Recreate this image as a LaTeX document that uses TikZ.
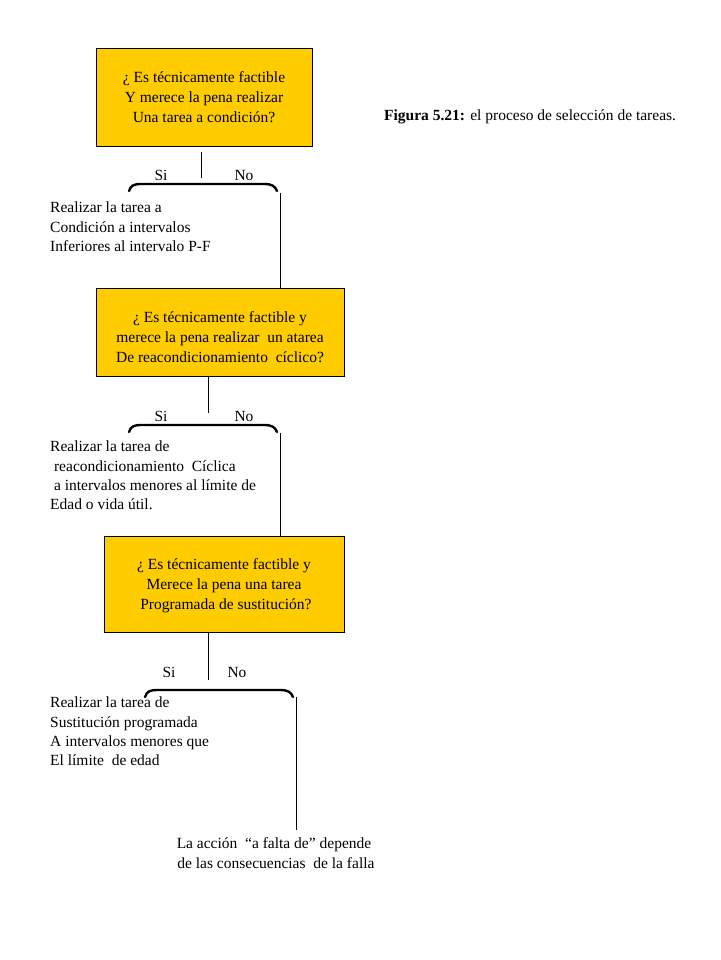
\documentclass[tikz,border=0pt]{standalone}
\usepackage{fontspec}
\setmainfont{Liberation Serif}
\definecolor{gold}{HTML}{FFCC00}
\begin{document}
\begin{tikzpicture}[x=1pt,y=-1pt,
  qbox/.style={draw=black,line width=0.8pt,fill=gold,rectangle,inner sep=0pt},
  qtxt/.style={inner sep=0pt,align=center,font=\fontsize{15.5}{20}\selectfont},
  txt/.style={align=left,inner sep=0pt,anchor=north west,font=\fontsize{15.5}{19.2}\selectfont},
  lab/.style={inner sep=0pt,anchor=base,font=\fontsize{15.5}{16}\selectfont},
  conn/.style={line width=0.8pt},
  brace/.style={line width=2.4pt,line cap=round}]
\useasboundingbox (0,0) rectangle (720,960);

% Caption
\node[inner sep=0pt,anchor=base west,font=\fontsize{15.5}{18}\selectfont] (cap) at (384,121) {\textbf{Figura 5.21:} el proceso de selección de tareas.};

% Box 1
\node[qbox,minimum width=216pt,minimum height=98pt] (b1) at (204,97) {};
\node[qtxt] (q1) at (204,97) {¿ Es técnicamente factible\\Y merece la pena realizar\\Una tarea a condición?};
\coordinate (s1) at (201,152);
\coordinate (e1) at (201,178);
\draw[conn] (s1) -- (e1);
\node[lab] (si1) at (161,181) {Si};
\node[lab] (no1) at (244,181) {No};
\coordinate (bl1) at (129,191);
\coordinate (br1) at (277,191);
\draw[brace] (bl1) .. controls (131,185) and (134,184) .. (142,184) -- (264,184) .. controls (272,184) and (275,186) .. (br1);
\node[txt] (t1) at (50,202) {Realizar la tarea a\\Condición a intervalos\\Inferiores al intervalo P-F};

% Box 2
\node[qbox,minimum width=248pt,minimum height=88pt] (b2) at (220,332) {};
\node[qtxt] (q2) at (220,337) {¿ Es técnicamente factible y\\merece la pena realizar\ \ un atarea\\De reacondicionamiento\ \ cíclico?};
\coordinate (n1) at (280,193);
\draw[conn] (n1) -- (b2.north -| n1);
\coordinate (e2) at (208,413);
\draw[conn] (b2.south -| e2) -- (e2);
\node[lab] (si2) at (161,421) {Si};
\node[lab] (no2) at (244,421) {No};
\coordinate (bl2) at (129,432);
\coordinate (br2) at (277,432);
\draw[brace] (bl2) .. controls (131,426) and (134,425) .. (142,425) -- (264,425) .. controls (272,425) and (275,427) .. (br2);
\node[txt] (t2) at (50,441) {Realizar la tarea de\\\ reacondicionamiento\ \ Cíclica\\\ a intervalos menores al límite de\\Edad o vida útil.};

% Box 3
\node[qbox,minimum width=240pt,minimum height=96pt] (b3) at (224,584) {};
\node[qtxt] (q3) at (224,586) {¿ Es técnicamente factible y\\Merece la pena una tarea\\\ Programada de sustitución?};
\coordinate (n2) at (280,433);
\draw[conn] (n2) -- (b3.north -| n2);
\coordinate (e3) at (208,680);
\draw[conn] (b3.south -| e3) -- (e3);
\node[lab] (si3) at (169,677) {Si};
\node[lab] (no3) at (237,677) {No};
\coordinate (bl3) at (145,697);
\coordinate (br3) at (293,697);
\draw[brace] (bl3) .. controls (147,691) and (150,690) .. (158,690) -- (280,690) .. controls (288,690) and (291,692) .. (br3);
\node[txt] (t3) at (50,697) {Realizar la tarea de\\Sustitución programada\\A intervalos menores que\\El límite\ \ de edad};

% Final
\coordinate (n3) at (296,697);
\coordinate (m3) at (296,830);
\node[inner sep=0pt,align=center,anchor=north,font=\fontsize{15.5}{20}\selectfont] (fin) at (274,837)
  {La acción\ \ ``a falta de'' depende\\\ de las consecuencias\ \ de la falla};
\draw[conn] (n3) -- (m3);
\end{tikzpicture}
\end{document}
